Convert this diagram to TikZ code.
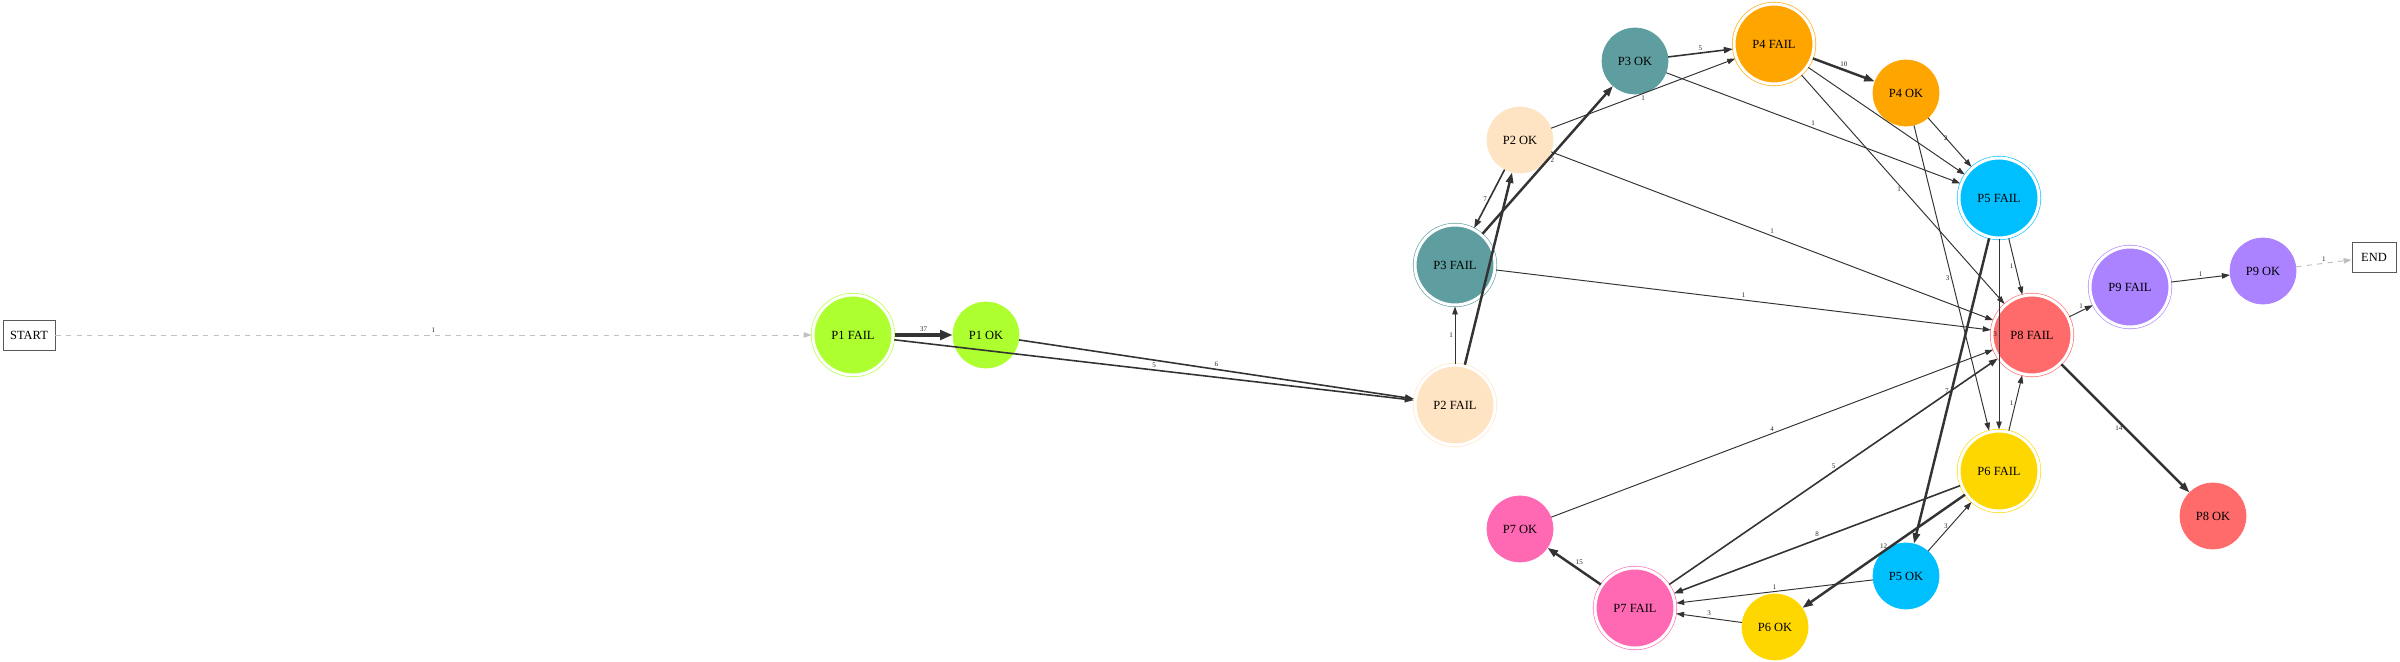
\documentclass[tikz,border=0pt]{standalone}
\usepackage{fontspec}
\setmainfont{Liberation Serif}
\usepackage{tikz}
\usetikzlibrary{arrows.meta}
\usepackage{xcolor}

\definecolor{pone}{HTML}{ADFF2F}
\definecolor{ptwo}{HTML}{FFE4C4}
\definecolor{pthree}{HTML}{5F9EA0}
\definecolor{pfour}{HTML}{FFA500}
\definecolor{pfive}{HTML}{00BFFF}
\definecolor{psix}{HTML}{FFD700}
\definecolor{pseven}{HTML}{FF69B4}
\definecolor{peight}{HTML}{FF6A6A}
\definecolor{pnine}{HTML}{AB82FF}
\definecolor{edgc}{HTML}{333333}
\definecolor{dshc}{HTML}{C0C0C0}

\newcommand{\ndfont}{\fontsize{7.1}{8}\selectfont}
\newcommand{\lbfont}{\fontsize{4}{4.5}\selectfont}

\begin{document}
\begin{tikzpicture}[
    x=0.02cm, y=-0.02cm,
    fl/.style={circle, draw=#1, fill=#1, double=white, double distance=0.06cm,
               line width=0.35pt, minimum size=1.6cm, inner sep=0pt,
               outer sep=0.03cm, font=\ndfont},
    ok/.style={circle, draw=#1, fill=#1, minimum size=1.32cm, inner sep=0pt,
               font=\ndfont},
    tm/.style={draw=black!65, line width=0.5pt, minimum height=0.6cm,
               inner sep=0pt, font=\ndfont},
    ar/.style={-{Triangle[length=1.6mm,width=1.1mm]}, draw=edgc, line width=0.55pt},
    am/.style={-{Triangle[length=1.8mm,width=1.25mm]}, draw=edgc, line width=0.9pt},
    ab/.style={-{Triangle[length=2.1mm,width=1.45mm]}, draw=edgc, line width=1.4pt},
    ah/.style={-{Triangle[length=2.5mm,width=1.9mm]}, draw=edgc, line width=2.3pt},
    da/.style={-{Triangle[length=1.6mm,width=1.1mm]}, draw=dshc, line width=0.55pt,
               dash pattern=on 3pt off 3pt},
    lb/.style={font=\lbfont, inner sep=1pt, text=black!85},
]
\useasboundingbox (0,0) rectangle (2400,662);

% === Ends ===
\node[tm, minimum width=1.04cm] at (29,335) (st) {START};
\node[tm, minimum width=0.88cm] at (2374,257) (en) {END};

% === P1, P2, P3 ===
\node[fl=pone] at (853,335) (p1f) {P1 FAIL};
\node[ok=pone] at (986,335) (p1o) {P1 OK};
\node[fl=ptwo] at (1455,405) (p2f) {P2 FAIL};
\node[ok=ptwo] at (1520,140) (p2o) {P2 OK};
\node[fl=pthree] at (1455,265) (p3f) {P3 FAIL};
\node[ok=pthree] at (1635,61) (p3o) {P3 OK};

% === P4, P5, P6 ===
\node[fl=pfour] at (1774,44) (p4f) {P4 FAIL};
\node[ok=pfour] at (1906,93) (p4o) {P4 OK};
\node[fl=pfive] at (1999,198) (p5f) {P5 FAIL};
\node[ok=pfive] at (1906,576) (p5o) {P5 OK};
\node[fl=psix] at (1999,471) (p6f) {P6 FAIL};
\node[ok=psix] at (1775,627) (p6o) {P6 OK};

% === P7, P8, P9 ===
\node[fl=pseven] at (1635,608) (p7f) {P7 FAIL};
\node[ok=pseven] at (1520,529) (p7o) {P7 OK};
\node[fl=peight] at (2032,335) (p8f) {P8 FAIL};
\node[ok=peight] at (2213,516) (p8o) {P8 OK};
\node[fl=pnine] at (2130,287) (p9f) {P9 FAIL};
\node[ok=pnine] at (2263,271) (p9o) {P9 OK};

% --- Arrows ---
\draw[da] (st) -- node[lb, above]{1} (p1f);
\draw[ah] (p1f) -- node[lb, above]{37} (p1o);
\draw[am] (p1f) -- node[lb, above]{5} (p2f);
\draw[am] (p1o) -- node[lb, above]{6} (p2f);
\draw[ar] (p2f) -- node[lb, left]{1} (p3f);
\draw[ab] (p2f) -- (p2o);
\draw[am] (p2o) -- node[lb, left]{7} (p3f);
\draw[ab] (p3f) -- node[lb, right]{2} (p3o);
\draw[ar] (p2o) -- node[lb, below]{1} (p4f);
\draw[ar] (p2o) -- node[lb, above]{1} (p8f);
\draw[ar] (p3f) -- node[lb, above]{1} (p8f);
\draw[am] (p3o) -- node[lb, above]{5} (p4f);
\draw[ar] (p3o) -- node[lb, above]{1} (p5f);
\draw[ab] (p4f) -- node[lb, above]{10} (p4o);
\draw[ar] (p4f) -- node[lb, left]{1} (p8f);
\draw[ar] (p4f) -- (p5f);
\draw[ar] (p4o) -- node[lb, above left]{2} (p5f);
\draw[ar] (p4o) -- node[lb, left]{3} (p6f);
\draw[ar] (p5f) -- node[lb, left]{1} (p8f);
\draw[ar] (p5f) -- node[lb, left]{3} (p6f);
\draw[ab] (p5f) -- node[lb, left]{7} (p5o);
\draw[ar] (p8f) -- node[lb, above]{1} (p9f);
\draw[ar] (p9f) -- node[lb, above]{1} (p9o);
\draw[da] (p9o) -- node[lb, above]{1} (en);
\draw[ab] (p8f) -- node[lb, left]{14} (p8o);
\draw[ar] (p6f) -- node[lb, left]{1} (p8f);
\draw[am] (p6f) -- node[lb, above]{8} (p7f);
\draw[ab] (p6f) -- node[lb, above]{12} (p6o);
\draw[ar] (p5o) -- node[lb, left]{3} (p6f);
\draw[ar] (p5o) -- node[lb, above]{1} (p7f);
\draw[ar] (p6o) -- node[lb, above]{3} (p7f);
\draw[ab] (p7f) -- node[lb, above right, inner sep=0.3pt]{15} (p7o);
\draw[ar] (p7o) -- node[lb, above]{4} (p8f);
\draw[am] (p7f) -- node[lb, above]{5} (p8f);

\end{tikzpicture}
\end{document}
